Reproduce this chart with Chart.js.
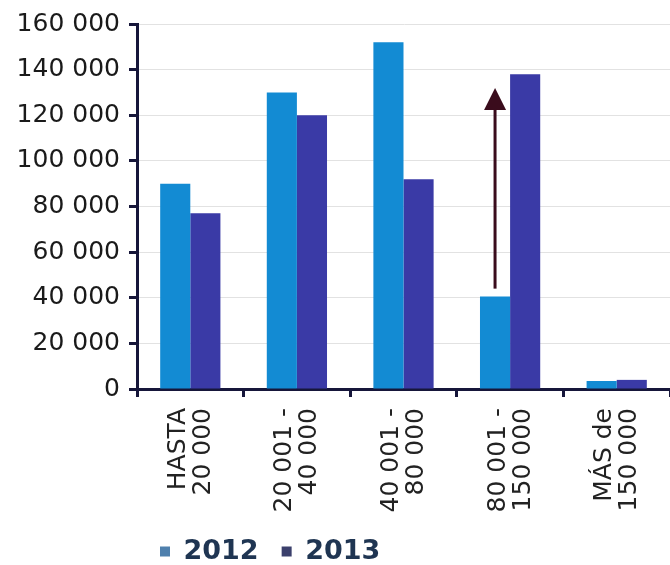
<!DOCTYPE html>
<html>
<head>
<meta charset="utf-8">
<script src="https://cdn.jsdelivr.net/npm/chart.js@4.4.1/dist/chart.umd.min.js"></script>
<style>
  html, body { margin: 0; padding: 0; background: #ffffff; }
  canvas { display: block; }
</style>
</head>
<body>
<canvas id="c" width="670" height="565"></canvas>
<script>
// ---- data ----
const categories = [
  ["HASTA", "20 000"],
  ["20 001 -", "40 000"],
  ["40 001 -", "80 000"],
  ["80 001 -", "150 000"],
  ["MÁS de", "150 000"]
];
const seriesNames = ["2012", "2013"];
const values2012 = [90000, 130000, 152000, 40500, 3500];
const values2013 = [77000, 120000, 92000, 138000, 4000];
const yTickValues = [0, 20000, 40000, 60000, 80000, 100000, 120000, 140000, 160000];
// arrow annotation: category index, series index, from value, to value
const arrowCategory = 3;
const arrowSeries = 0;
const arrowFrom = 44000;
const arrowTo = 132000;

const fmt = v => String(v).replace(/\B(?=(\d{3})+(?!\d))/g, ' ');

const arrowPlugin = {
  id: 'arrow',
  afterDatasetsDraw(chart) {
    const meta = chart.getDatasetMeta(arrowSeries);
    const el = meta.data[arrowCategory];
    if (!el) return;
    const y = chart.scales.y;
    const x = el.x;
    const y0 = y.getPixelForValue(arrowFrom);
    const y1 = y.getPixelForValue(arrowTo);
    const headH = 22, headW = 22;
    const ctx = chart.ctx;
    ctx.save();
    ctx.strokeStyle = '#3a0c1c';
    ctx.fillStyle = '#3a0c1c';
    ctx.lineWidth = 3;
    ctx.beginPath();
    ctx.moveTo(x, y0);
    ctx.lineTo(x, y1 + headH - 2);
    ctx.stroke();
    ctx.beginPath();
    ctx.moveTo(x, y1);
    ctx.lineTo(x - headW / 2, y1 + headH);
    ctx.lineTo(x + headW / 2, y1 + headH);
    ctx.closePath();
    ctx.fill();
    ctx.restore();
  }
};

const axisColor = '#16163a';

new Chart(document.getElementById('c'), {
  type: 'bar',
  data: {
    labels: categories,
    datasets: [
      { label: seriesNames[0], data: values2012, backgroundColor: '#138bd3', borderWidth: 0 },
      { label: seriesNames[1], data: values2013, backgroundColor: '#3a3aa6', borderWidth: 0 }
    ]
  },
  options: {
    responsive: false,
    animation: false,
    devicePixelRatio: 1,
    layout: { padding: { top: 12, right: 0, left: 0, bottom: -10 } },
    datasets: { bar: { categoryPercentage: 0.565, barPercentage: 1.0 } },
    plugins: {
      tooltip: { enabled: false },
      legend: {
        position: 'bottom',
        align: 'start',
        fullSize: false,
        labels: {
          boxWidth: 10,
          boxHeight: 10,
          padding: 23,
          color: '#1f3552',
          font: { family: 'DejaVu Sans', size: 27, weight: 'bold' },
          generateLabels(chart) {
            const cols = ['#4f80ad', '#3b406c'];
            return chart.data.datasets.map((ds, i) => ({
              text: ds.label, fillStyle: cols[i], strokeStyle: cols[i],
              lineWidth: 0, hidden: false, datasetIndex: i, fontColor: '#1f3552'
            }));
          }
        }
      }
    },
    scales: {
      x: {
        offset: true,
        grid: {
          offset: true,
          drawOnChartArea: false,
          drawTicks: true,
          tickLength: 8,
          tickColor: axisColor,
          tickWidth: 3,
          color: axisColor
        },
        border: { display: true, color: axisColor, width: 3 },
        ticks: {
          maxRotation: 90,
          minRotation: 90,
          padding: 11,
          labelOffset: -12,
          color: '#222222',
          font: { family: 'DejaVu Sans', size: 25, lineHeight: 1.0 }
        },
        afterFit(scale) {
          scale.height = 126;
          scale.paddingRight = 0;
          scale.paddingLeft = 0;
        }
      },
      y: {
        min: 0,
        max: 160000,
        afterBuildTicks(scale) { scale.ticks = yTickValues.map(v => ({ value: v })); },
        grid: {
          drawOnChartArea: true,
          color: '#e2e2e2',
          lineWidth: 1,
          tickLength: 8,
          tickColor: axisColor,
          tickWidth: 3
        },
        border: { display: true, color: axisColor, width: 3 },
        ticks: {
          padding: 9,
          color: '#1a1a1a',
          font: { family: 'DejaVu Sans', size: 25 },
          callback: v => fmt(v)
        },
        afterFit(scale) { scale.width = 137; }
      }
    }
  },
  plugins: [arrowPlugin]
});
</script>
</body>
</html>
